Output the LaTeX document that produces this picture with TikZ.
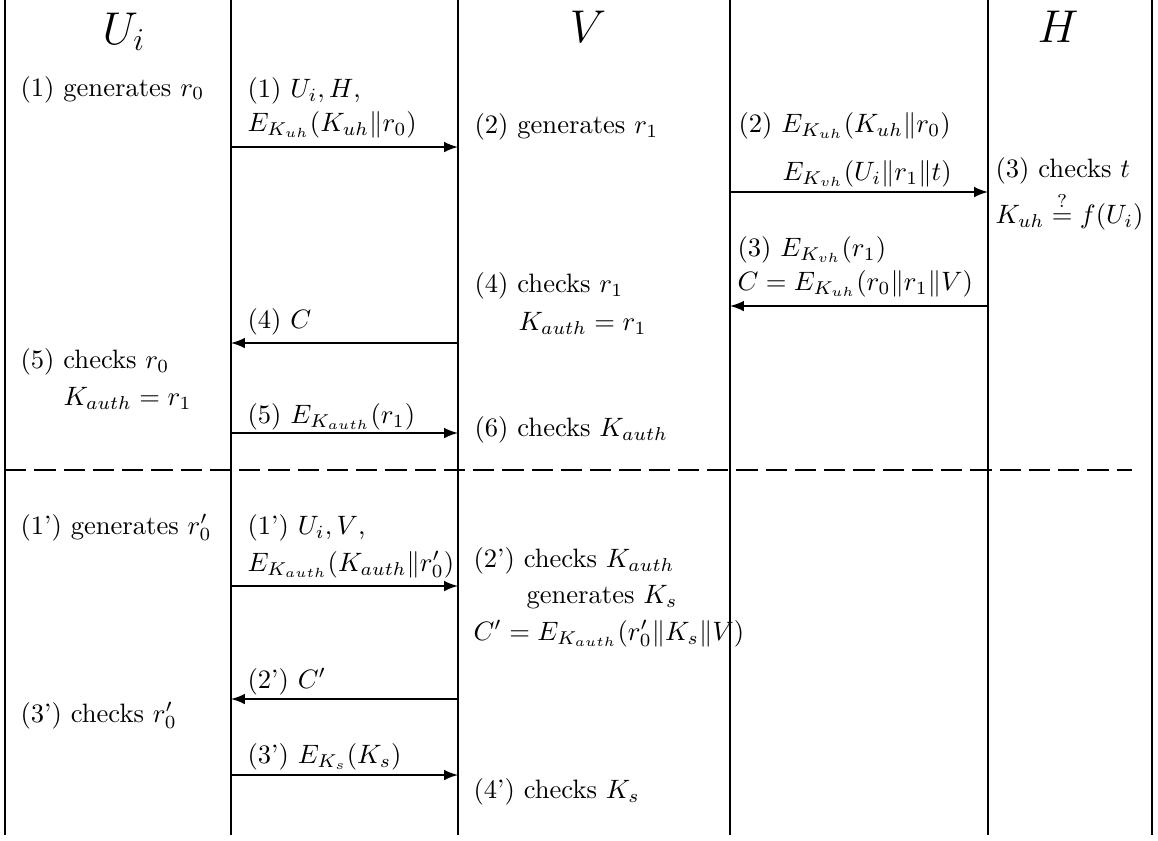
\documentclass[tikz,border=0pt]{standalone}
\usepackage{amssymb}
\usepackage{amsmath}
\usetikzlibrary{arrows}

\begin{document}
\begin{tikzpicture}[x=0.376pt,y=-0.376pt,
  txt/.style={anchor=base west,inner sep=0pt},
  head/.style={anchor=base,inner sep=0pt,font=\LARGE},
  msg/.style={thick,-latex}]
\useasboundingbox (0,0) rectangle (1158,840);
% lifelines
\foreach \x/\nm in {5/lu,231/lm,458/lv,730/ln,988/lh,1152/lr} {
\coordinate (\nm top) at (\x,0);
\coordinate (\nm bot) at (\x,835);
\draw[thick] (\nm top) -- (\nm bot);
}
% separator
\coordinate (sepl) at (5,470);
\coordinate (sepr) at (1132,470);
\draw[thick,dash pattern=on 8pt off 3pt] (sepl) -- (sepr);
% headers
\node[head] (hu) at (124,44) {$U_i$};
\node[head] (hv) at (588,42) {$V$};
\node[head] (hh) at (1058,42) {$H$};
% U_i
\node[txt] (u1)  at (20,96)  {(1) generates $r_0$};
\node[txt] (u5a) at (20,368) {(5) checks $r_0$};
\node[txt] (u5b) at (63,405) {$K_{auth}=r_1$};
\node[txt] (u1p) at (20,534) {(1') generates $r_0'$};
\node[txt] (u3p) at (20,722) {(3') checks $r_0'$};
% U_i <-> V
\node[txt] (m1a) at (247,97)  {(1) $U_i,H$,};
\node[txt] (m1b) at (247,131) {$E_{K_{uh}}(K_{uh}\|r_0)$};
\node[txt] (m4)  at (247,328) {(4) $C$};
\node[txt] (m5)  at (247,423) {(5) $E_{K_{auth}}(r_1)$};
\node[txt] (m1pa) at (247,534) {(1') $U_i,V$,};
\node[txt] (m1pb) at (247,571) {$E_{K_{auth}}(K_{auth}\|r_0')$};
\node[txt] (m2p) at (247,688) {(2') $C'$};
\node[txt] (m3p) at (247,763) {(3') $E_{K_s}(K_s)$};
% V
\node[txt] (v2)  at (474,133) {(2) generates $r_1$};
\node[txt] (v4a) at (474,292) {(4) checks $r_1$};
\node[txt] (v4b) at (518,330) {$K_{auth}=r_1$};
\node[txt] (v6)  at (474,436) {(6) checks $K_{auth}$};
\node[txt] (v2pa) at (473,567) {(2') checks $K_{auth}$};
\node[txt] (v2pb) at (526,603) {generates $K_s$};
\node[txt] (v2pc) at (473,640) {$C'=E_{K_{auth}}(r_0'\|K_s\|V)$};
\node[txt] (v4p) at (473,798) {(4') checks $K_s$};
% V <-> H
\node[txt] (n2a) at (738,132) {(2) $E_{K_{uh}}(K_{uh}\|r_0)$};
\node[txt] (n2b) at (782,180) {$E_{K_{vh}}(U_i\|r_1\|t)$};
\node[txt] (n3a) at (737,256) {(3) $E_{K_{vh}}(r_1)$};
\node[txt] (n3b) at (737,290) {$C=E_{K_{uh}}(r_0\|r_1\|V)$};
% H
\node[txt] (h3a) at (995,177) {(3) checks $t$};
\node[txt] (h3b) at (995,223) {$K_{uh}\stackrel{?}{=}f(U_i)$};
% messages
\foreach \y/\a/\b/\nm in {147/231/458/a1,343/458/231/a4,433/231/458/a5,
  586/231/458/b1,699/458/231/b2,775/231/458/b3,192/730/988/a2,306/988/730/a3} {
\coordinate (\nm s) at (\a,\y);
\coordinate (\nm e) at (\b,\y);
\draw[msg] (\nm s) -- (\nm e);
}
\end{tikzpicture}
\end{document}
